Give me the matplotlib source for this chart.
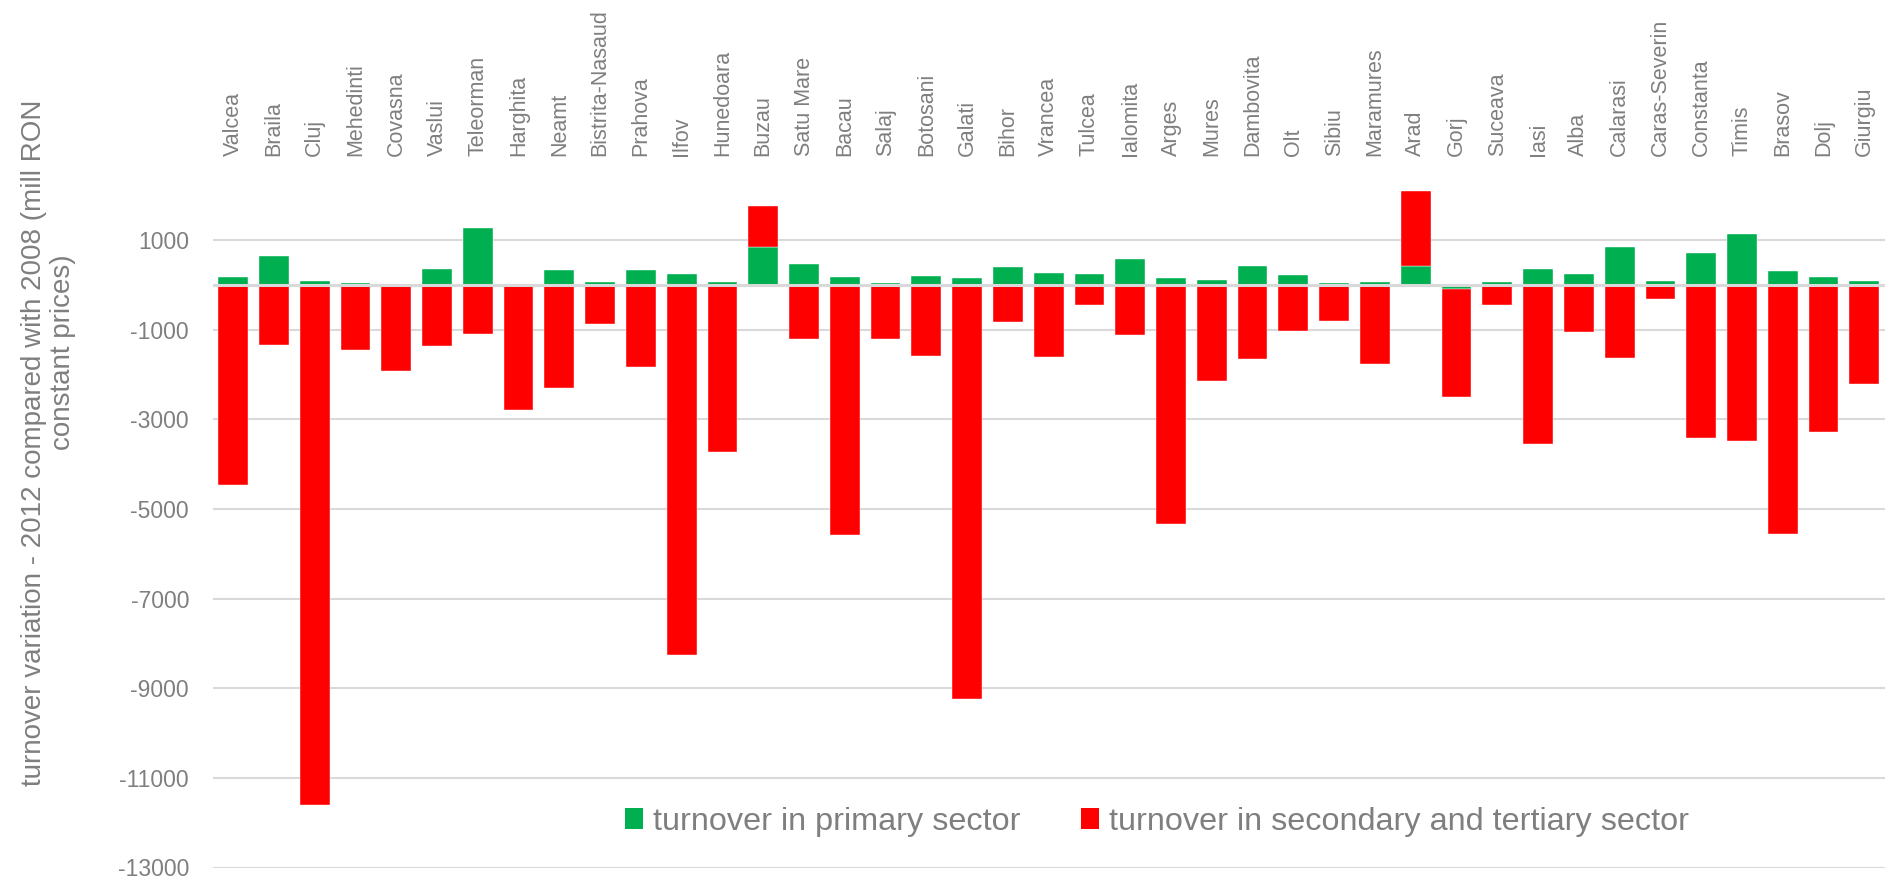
import numpy as np
import matplotlib
matplotlib.use("Agg")
import matplotlib.pyplot as plt
from matplotlib.patches import Patch

counties = ["Valcea", "Braila", "Cluj", "Mehedinti", "Covasna", "Vaslui", "Teleorman",
            "Harghita", "Neamt", "Bistrita-Nasaud", "Prahova", "Ilfov", "Hunedoara", "Buzau",
            "Satu Mare", "Bacau", "Salaj", "Botosani", "Galati", "Bihor", "Vrancea", "Tulcea",
            "Ialomita", "Arges", "Mures", "Dambovita", "Olt", "Sibiu", "Maramures", "Arad",
            "Gorj", "Suceava", "Iasi", "Alba", "Calarasi", "Caras-Severin", "Constanta",
            "Timis", "Brasov", "Dolj", "Giurgiu"]

primary = [170, 637, 89, 37, 22, 356, 1267, 20, 333, 59, 326, 237, 59, 844,
           459, 170, 52, 193, 148, 393, 274, 252, 570, 156, 104, 415, 230, 52, 59, 415,
           -85, 74, 363, 252, 852, 81, 719, 1126, 304, 185, 81]

secondary_tertiary = [-4470, -1331, -11605, -1457, -1926, -1368, -1093, -2803, -2297, -877,
                      -1822, -8268, -3725, 926, -1212, -5572, -1204, -1591, -9249, -818,
                      -1599, -446, -1115, -5334, -2141, -1651, -1019, -810, -1755, 1674,
                      -2410, -454, -3554, -1048, -1621, -320, -3420, -3487, -5557, -3294,
                      -2223]

yticks = [1000, -1000, -3000, -5000, -7000, -9000, -11000, -13000]

GREEN = "#00B050"
RED = "#FF0000"
GRID = "#D9D9D9"
TXT = "#7F7F7F"
FONT = "Liberation Sans"

plt.rcParams['font.family'] = [FONT, 'DejaVu Sans']

W, H = 1889, 882
fig = plt.figure(figsize=(W / 100, H / 100), dpi=100)
ax_left, ax_right = 212.7, 1884.7
ax_top, ax_bot = 172.8, 867.5
ax = fig.add_axes([ax_left / W, 1 - ax_bot / H, (ax_right - ax_left) / W, (ax_bot - ax_top) / H])

x = np.arange(len(counties))
p = np.array(primary, dtype=float)
s = np.array(secondary_tertiary, dtype=float)
bottom_s = np.where(np.sign(s) == np.sign(p), p, 0.0)

bw = 0.73
ax.bar(x, p, width=bw, color=GREEN, zorder=3, edgecolor="white", linewidth=0.3)
ax.bar(x, s, width=bw, bottom=bottom_s, color=RED, zorder=3, edgecolor="white", linewidth=0.3)

ax.set_xlim(-0.5, len(counties) - 0.5)
ax.set_ylim(-13000, 2500)
ax.set_yticks(yticks)
ax.set_yticklabels([str(v) for v in yticks], fontsize=16.5, color=TXT)
ax.yaxis.grid(True, color=GRID, linewidth=1.5, zorder=0)
ax.axhline(0, color=GRID, linewidth=2.2, zorder=4)
ax.tick_params(axis='y', length=0, pad=17)

ax.xaxis.tick_top()
ax.set_xticks(x)
ax.set_xticklabels(counties, rotation=90, fontsize=15.5, color=TXT, va='bottom', ha='center')
ax.tick_params(axis='x', length=0, pad=12)

for sp in ax.spines.values():
    sp.set_visible(False)

fig.text(34 / W, 1 - 443 / H, "turnover variation - 2012 compared with 2008 (mill RON",
         rotation=90, ha='center', va='center', fontsize=20, color=TXT)
fig.text(63 / W, 1 - 352 / H, "constant prices)",
         rotation=90, ha='center', va='center', fontsize=20, color=TXT)

handles = [Patch(facecolor=GREEN, edgecolor='none'), Patch(facecolor=RED, edgecolor='none')]
leg = fig.legend(handles, ["turnover in primary sector", "turnover in secondary and tertiary sector"],
                 loc='center', bbox_to_anchor=(1157 / W, 1 - 822 / H), ncol=2, frameon=False,
                 fontsize=23.3, handlelength=0.55, handleheight=0.6, handletextpad=0.3,
                 columnspacing=1.9, labelcolor=TXT)

fig.savefig("out.png", dpi=100, facecolor="white")
